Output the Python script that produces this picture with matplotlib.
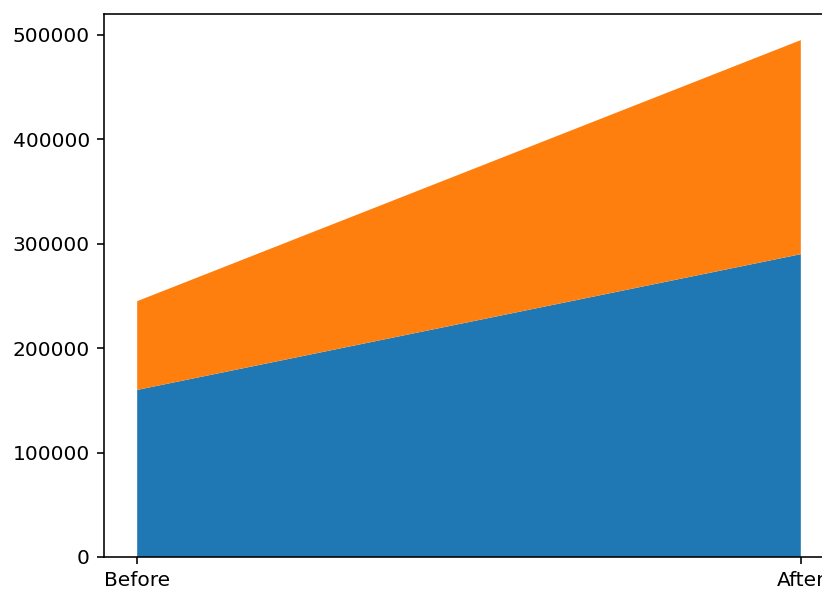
import matplotlib
matplotlib.use("Agg")
import matplotlib.pyplot as plt

categories = ["Before", "After"]
series_a = [160000, 290000]
series_b = [85000, 205000]

W, H = 822, 590
DPI = 145
fig = plt.figure(figsize=(W / DPI, H / DPI), dpi=DPI)
left, right, top, bottom = 104, 834, 14, 557
ax = fig.add_axes([left / W, (H - bottom) / H, (right - left) / W, (bottom - top) / H])

x = list(range(len(categories)))
ax.stackplot(x, series_a, series_b)
ax.set_xticks(x)
ax.set_xticklabels(categories)
ax.set_yticks([0, 100000, 200000, 300000, 400000, 500000])
ax.set_ylim(0, 520000)

fig.savefig("out.png", dpi=DPI)
